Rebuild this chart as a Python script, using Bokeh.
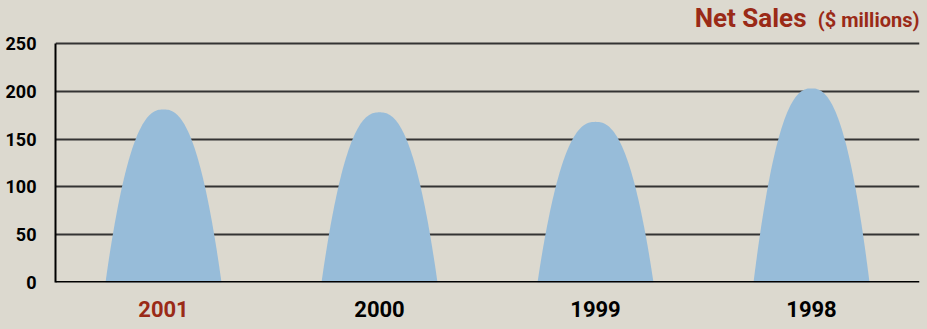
import numpy as np
from bokeh.plotting import figure
from bokeh.layouts import column
from bokeh.models import Range1d, FixedTicker, ColumnDataSource
from bokeh.core.properties import value
from bokeh.embed import file_html
from bokeh.resources import INLINE

years = ["2001", "2000", "1999", "1998"]
net_sales = [181, 178, 168, 203]
year_colors = ["#9a2a17", "black", "black", "black"]
y_ticks = [0, 50, 100, 150, 200, 250]

BG = "#dcd9cf"
BLUE = "#97bcd9"
RED = "#9a2a17"
FONT = "Roboto"
W = 927
FRAME_H, MAIN_BOT, BOT_H = 282, 12, 35
MAIN_H = FRAME_H + MAIN_BOT
LEFT, RIGHT = 55, 8
PX_PER_UNIT = 240 / 251
Y_TOP = FRAME_H / PX_PER_UNIT  # room above 250 for the title


def bare(height, x_range, y_range, left=0, right=0):
    f = figure(width=W, height=height, output_backend="svg", toolbar_location=None,
               x_range=x_range, y_range=y_range, x_axis_type=None, y_axis_type=None,
               min_border_left=left, min_border_right=right, min_border_top=0, min_border_bottom=0)
    f.title.visible = False
    f.background_fill_color = BG
    f.border_fill_color = BG
    f.outline_line_color = None
    f.xgrid.visible = False
    f.ygrid.visible = False
    return f


# ---- main chart ----
xr = Range1d(0, len(years))
p = figure(width=W, height=MAIN_H, output_backend="svg", toolbar_location=None,
           x_range=xr, y_range=Range1d(0, Y_TOP),
           min_border_left=LEFT, min_border_right=RIGHT,
           min_border_top=0, min_border_bottom=MAIN_BOT)
p.title.visible = False
p.background_fill_color = BG
p.border_fill_color = BG
p.outline_line_color = None

half_w = 0.2685
t = np.linspace(-1, 1, 101)
xs, ys = [], []
for i, v in enumerate(net_sales):
    c = i + 0.5
    xs.append(list(c + t * half_w))
    ys.append(list(v * (1 - np.abs(t) ** 2.4)))
p.patches(xs, ys, fill_color=BLUE, line_color=None)

p.xgrid.visible = False
p.ygrid.ticker = FixedTicker(ticks=y_ticks)
p.ygrid.grid_line_color = "#333333"
p.ygrid.grid_line_width = 2
p.ygrid.level = "underlay"

p.yaxis.ticker = FixedTicker(ticks=y_ticks)
p.yaxis.bounds = (0, 250)
p.yaxis.axis_line_color = "black"
p.yaxis.axis_line_width = 2
p.yaxis.major_tick_line_color = None
p.yaxis.minor_tick_line_color = None
p.yaxis.major_label_text_font = FONT
p.yaxis.major_label_text_font_style = "bold"
p.yaxis.major_label_text_font_size = "18px"
p.yaxis.major_label_text_color = "black"
p.yaxis.major_label_standoff = 13

p.xaxis.visible = False
centers = [i + 0.5 for i in range(len(years))]
p.segment(x0=[0], y0=[0], x1=[len(years)], y1=[0], line_color="black", line_width=3)

# title (above the 250 line)
p.text(x=[len(years)], y=[Y_TOP - 19.6 / PX_PER_UNIT], text=["($ millions)"], text_font=value(FONT),
       text_font_style="bold", text_font_size="20px", text_color=RED, text_align="right",
       text_baseline="middle")
p.text(x=[len(years) - 113 / 216], y=[Y_TOP - 17.4 / PX_PER_UNIT], text=["Net Sales"],
       text_font=value(FONT), text_font_style="bold", text_font_size="26px", text_color=RED,
       text_align="right", text_baseline="middle")

# ---- year label strip ----
bot = bare(BOT_H, xr, Range1d(BOT_H, 0), left=LEFT, right=RIGHT)
src = ColumnDataSource(dict(x=centers, y=[14.7] * len(years), text=years, color=year_colors))
bot.text(x="x", y="y", text="text", text_color="color", source=src, text_font=value(FONT),
         text_font_style="bold", text_font_size="22px", text_align="center",
         text_baseline="middle")

layout = column(p, bot, spacing=0)
layout.styles = {"background-color": BG}
open("out.html", "w").write(file_html(layout, INLINE))
